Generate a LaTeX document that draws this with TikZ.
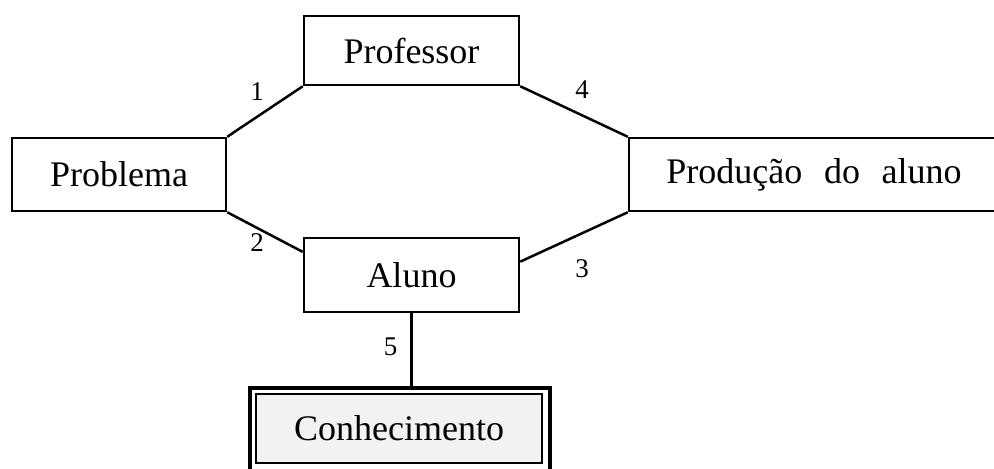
\documentclass[tikz,border=0pt]{standalone}
\usepackage{fontspec}
\setmainfont{Liberation Serif}
\usetikzlibrary{positioning}
\begin{document}
\begin{tikzpicture}[
        x=0.5pt, y=-0.5pt,
        line width=1.25pt,
        font=\fontsize{18pt}{20pt}\selectfont
    ]
    \tikzset{
        box/.style = {rectangle, draw=black, align=center, fill=white, inner sep=0pt},
        boxk/.style = {rectangle, draw=black, line width=0.9pt, fill=black!5, inner sep=0pt},
        boxo/.style = {rectangle, draw=black, line width=2.25pt, inner sep=0pt},
        edgen/.style = {-, line width=1.25pt},
        lbl/.style = {font=\fontsize{13.5pt}{15pt}\selectfont, inner sep=0pt},
    }
    \clip (0,0) rectangle (994,468);
    \node[box, minimum width=107.5pt, minimum height=34.5pt] at (411.5,50.5) (prof) {Professor};
    \node[box, minimum width=107pt, minimum height=36.5pt] at (119,174.5) (prob) {Problema};
    \node[box, minimum width=185pt, minimum height=36.5pt] at (814,174.5) (prod) {Produção\hspace{0.6em}do\hspace{0.6em}aluno};
    \node[box, minimum width=107.5pt, minimum height=37pt] at (411.5,275) (aluno) {Aluno};
    \node[boxo, minimum width=150pt, minimum height=42pt] at (400,430) (kout) {};
    \node[boxk, minimum width=143pt, minimum height=34.5pt] at (399,428.5) (kin) {Conhecimento};
    %
    \draw[edgen] (prob.north east) -- node[lbl, above left=4.75pt and 0pt] (n1) {1} (prof.south west);
    \draw[edgen] (prob.south east) -- node[lbl, below left=0.25pt and 0pt] (n2) {2} (aluno.168);
    \draw[edgen] (aluno.7) -- node[lbl, below right=10.5pt and 0pt] (n3) {3} (prod.south west);
    \draw[edgen] (prof.south east) -- node[lbl, above right=6pt and 0pt] (n4) {4} (prod.north west);
    %
    \draw[edgen] (aluno.south) -- node[lbl, left=6.5pt, yshift=1.5pt] (n5) {5} (aluno.south |- kout.north);
\end{tikzpicture}
\end{document}
